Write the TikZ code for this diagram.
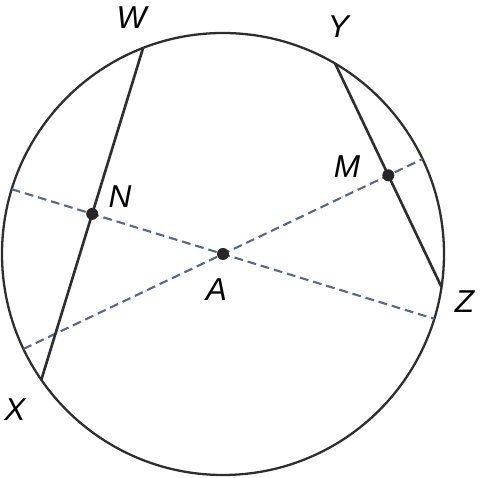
\documentclass[tikz,border=0pt]{standalone}
\usepackage{fontspec}
\setmainfont{Liberation Sans}
\usetikzlibrary{calc}
\definecolor{dashblue}{RGB}{84,104,140}
\tikzset{
  rim/.style={line width=1.3pt, draw=black!82},
  chord/.style={line width=1.5pt, draw=black!82},
  bisect/.style={line width=1.2pt, draw=dashblue, dash pattern=on 5pt off 2.8pt},
  pt/.style={circle, fill=black!85, inner sep=0pt, minimum size=2.4mm},
  lbl/.style={font=\fontsize{18}{21}\selectfont\itshape, inner sep=0pt}
}
\begin{document}
\begin{tikzpicture}
  \useasboundingbox (-4.46,-4.48) rectangle (5.18,5.08);
  \def\R{4.42}
  \draw[rim] (0,0) circle (\R);

  % chord end points on the circle
  \coordinate (W) at (111.2:\R);
  \coordinate (X) at (214.7:\R);
  \coordinate (Y) at (59.5:\R);
  \coordinate (Z) at (-8.6:\R);
  \coordinate (A) at (0,0);
  \coordinate (N) at ($(W)!0.5!(X)$);
  \coordinate (M) at ($(Y)!0.5!(Z)$);

  % dashed lines through the centre
  \coordinate (nl) at (162.95:\R);
  \coordinate (nr) at (-17.05:\R);
  \coordinate (ml) at (205.45:\R);
  \coordinate (mr) at (25.45:\R);
  \draw[bisect] (nl) -- (nr);
  \draw[bisect] (ml) -- (mr);

  % chords
  \draw[chord] (W) -- (X);
  \draw[chord] (Y) -- (Z);

  \node[pt] (dotA) at (A) {};
  \node[pt] (dotN) at (N) {};
  \node[pt] (dotM) at (M) {};

  % labels
  \node[lbl] (labW) at (-1.83,4.72) {W};
  \node[lbl] (labY) at (2.31,4.55) {Y};
  \node[lbl] (labN) at (-2.06,1.15) {N};
  \node[lbl] (labM) at (2.48,1.75) {M};
  \node[lbl] (labA) at (-0.13,-0.71) {A};
  \node[lbl] (labX) at (-4.16,-3.11) {X};
  \node[lbl] (labZ) at (4.83,-0.95) {Z};
\end{tikzpicture}
\end{document}
